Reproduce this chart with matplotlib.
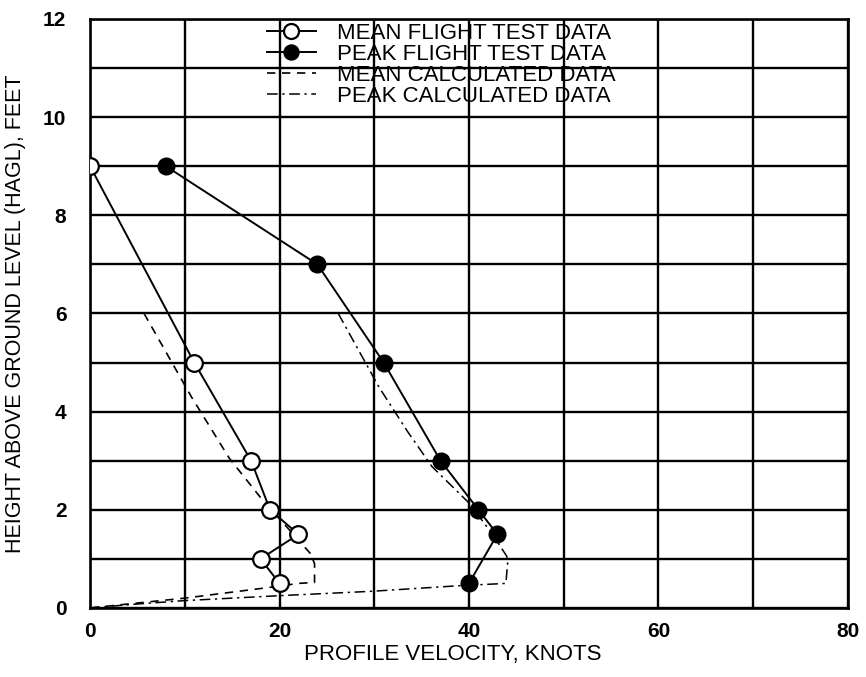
import matplotlib
matplotlib.use('Agg')
import matplotlib.pyplot as plt
from matplotlib.ticker import MultipleLocator

plt.rcParams['font.family'] = ['Liberation Sans', 'DejaVu Sans']

# flight test data (velocity in knots, height in feet)
mean_test_v = [0, 11, 17, 19, 22, 18, 20]
mean_test_h = [9, 5, 3, 2, 1.5, 1, 0.5]
peak_test_v = [8, 24, 31, 37, 41, 43, 40]
peak_test_h = [9, 7, 5, 3, 2, 1.5, 0.5]

# calculated profiles
mean_calc_v = [5.7, 10.7, 14.7, 18.2, 21.0, 23.3, 23.7, 23.7, 22.0, 19.0, 10.0, 5.0, 0]
mean_calc_h = [6.0, 4.3, 3.05, 2.2, 1.6, 1.1, 0.9, 0.52, 0.5, 0.42, 0.2, 0.1, 0]
peak_calc_v = [26.2, 30.5, 33.5, 36.1, 40.0, 42.5, 44.0, 44.1, 43.9, 38.7, 29.8, 20.0, 10.0, 5.0, 0]
peak_calc_h = [6.0, 4.5, 3.6, 2.88, 2.14, 1.5, 1.05, 0.95, 0.5, 0.45, 0.34, 0.25, 0.15, 0.08, 0]

fig = plt.figure(figsize=(8.66, 6.77), dpi=100)
ax = fig.add_axes([0.104, 0.102, 0.875, 0.870])

ax.plot(mean_test_v, mean_test_h, color='black', lw=1.4, marker='o', ms=12,
        mfc='white', mec='black', mew=1.6, label='MEAN FLIGHT TEST DATA', zorder=4)
ax.plot(peak_test_v, peak_test_h, color='black', lw=1.4, marker='o', ms=12,
        mfc='black', mec='black', label='PEAK FLIGHT TEST DATA', zorder=4)
ax.plot(mean_calc_v, mean_calc_h, color='black', lw=1.2, ls=(0, (5, 4)),
        label='MEAN CALCULATED DATA', zorder=3)
ax.plot(peak_calc_v, peak_calc_h, color='black', lw=1.1, ls=(0, (7, 3, 1.5, 3)),
        label='PEAK CALCULATED DATA', zorder=3)

ax.set_xlim(0, 80)
ax.set_ylim(0, 12)
ax.xaxis.set_major_locator(MultipleLocator(20))
ax.xaxis.set_minor_locator(MultipleLocator(10))
ax.yaxis.set_major_locator(MultipleLocator(2))
ax.yaxis.set_minor_locator(MultipleLocator(1))
ax.grid(True, which='both', color='black', lw=1.7)
ax.set_axisbelow(True)
ax.tick_params(which='both', length=0, labelsize=15)
ax.tick_params(axis='x', pad=10)
ax.tick_params(axis='y', pad=17)
for lbl in ax.get_xticklabels() + ax.get_yticklabels():
    lbl.set_fontweight('bold')
for s in ax.spines.values():
    s.set_linewidth(1.9)

ax.set_xlabel('PROFILE VELOCITY, KNOTS', fontsize=16, labelpad=2, x=0.478)
ax.set_ylabel('HEIGHT ABOVE GROUND LEVEL (HAGL), FEET', fontsize=15.5, labelpad=12)

leg = ax.legend(loc='upper left', bbox_to_anchor=(0.2335, 0.993), frameon=False,
                fontsize=16, labelspacing=0.0, handlelength=2.2, handletextpad=0.95,
                borderpad=0, borderaxespad=0, markerscale=0.9)

fig.savefig('out.png', dpi=100)
